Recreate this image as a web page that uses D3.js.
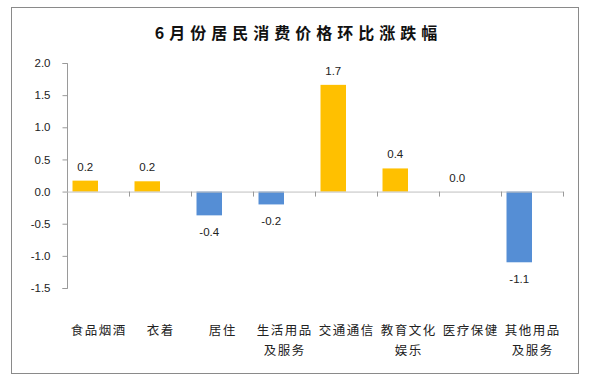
<!DOCTYPE html>
<html>
<head>
<meta charset="utf-8">
<script src="https://cdn.jsdelivr.net/npm/d3@7"></script>
<style>
  html, body { margin: 0; padding: 0; background: #fff; }
  svg { display: block; }
</style>
</head>
<body>
<svg id="chart" width="592" height="382"></svg>
<script>
const title = "6月份居民消费价格环比涨跌幅";
const categories = ["食品烟酒", "衣着", "居住", "生活用品及服务", "交通通信", "教育文化娱乐", "医疗保健", "其他用品及服务"];
const values = [0.17, 0.16, -0.37, -0.2, 1.66, 0.36, 0.0, -1.1];
const yTicks = [-1.5, -1.0, -0.5, 0.0, 0.5, 1.0, 1.5, 2.0];
const posColor = "#FFC000";
const negColor = "#558ED5";

const svg = d3.select("#chart");
const cjk = "'Noto Sans CJK SC', 'Noto Sans', sans-serif";
const num = "'Liberation Sans', Arial, sans-serif";
const fmt = v => d3.format(".1f")(v).replace("\u2212", "-");

// frame
svg.append("rect").attr("x", 11.5).attr("y", 7.5).attr("width", 567).attr("height", 366)
  .attr("fill", "#fff").attr("stroke", "#8a8a8a").attr("stroke-width", 1);

// title
svg.append("text").attr("x", 296 + 2.5).attr("y", 39)
  .attr("text-anchor", "middle").attr("font-family", cjk).attr("font-weight", "bold")
  .attr("font-size", 16).attr("letter-spacing", 5).attr("fill", "#111").text(title);

const y = d3.scaleLinear().domain([-1.5, 2.0]).range([288, 63]);
const x = d3.scaleBand().domain(categories).range([67, 563]).paddingInner(0).paddingOuter(0);
const x1 = d3.scaleBand().domain(["value", "blank"]).range([0, x.bandwidth()]).paddingInner(0).paddingOuter(0.216);

// y axis
const yAxis = svg.append("g").attr("transform", "translate(67.5,0)")
  .call(d3.axisLeft(y).tickValues(yTicks).tickFormat(fmt).tickSize(5).tickPadding(12));
yAxis.select(".domain").attr("stroke", "#9a9a9a").attr("d", `M-5,${y(2.0)+0.5}H0V${y(-1.5)+0.5}H-5`);
yAxis.selectAll(".tick line").attr("stroke", "#9a9a9a");
yAxis.selectAll(".tick text").attr("font-family", num).attr("font-size", 11.5).attr("fill", "#222");

// bars
svg.append("g").selectAll("rect").data(values).join("rect")
  .attr("x", (d, i) => x(categories[i]) + x1("value"))
  .attr("width", x1.bandwidth())
  .attr("y", d => Math.min(y(d), y(0)))
  .attr("height", d => Math.abs(y(d) - y(0)))
  .attr("fill", d => d >= 0 ? posColor : negColor);

// x axis line + ticks at category boundaries
const xg = svg.append("g");
xg.append("line").attr("x1", 67).attr("x2", 563).attr("y1", y(0) + 0.5).attr("y2", y(0) + 0.5)
  .attr("stroke", "#bfbfbf");
const bounds = categories.map(c => x(c)).concat([x.range()[1]]);
xg.selectAll("line.tk").data(bounds.slice(1)).join("line").attr("class", "tk")
  .attr("x1", d => Math.round(d) + 0.5).attr("x2", d => Math.round(d) + 0.5)
  .attr("y1", y(0)).attr("y2", y(0) + 5).attr("stroke", "#9a9a9a");

// value labels
svg.append("g").selectAll("text").data(values).join("text")
  .attr("x", (d, i) => x(categories[i]) + x1("value") + x1.bandwidth() / 2)
  .attr("y", d => d >= 0 ? y(d) - 10 : y(d) + 21)
  .attr("text-anchor", "middle").attr("font-family", num).attr("font-size", 11.5)
  .attr("fill", "#222").text(d => fmt(d));

// category labels (wrapped every 4 characters)
const cl = svg.append("g");
categories.forEach(c => {
  const lines = [];
  for (let i = 0; i < c.length; i += 4) lines.push(c.slice(i, i + 4));
  const t = cl.append("text").attr("text-anchor", "middle").attr("font-family", cjk)
    .attr("font-size", 12.5).attr("letter-spacing", 1.5).attr("fill", "#222");
  lines.forEach((ln, j) => {
    t.append("tspan").attr("x", x(c) + x.bandwidth() / 2 + 0.75).attr("y", 335 + j * 20).text(ln);
  });
});
</script>
</body>
</html>
